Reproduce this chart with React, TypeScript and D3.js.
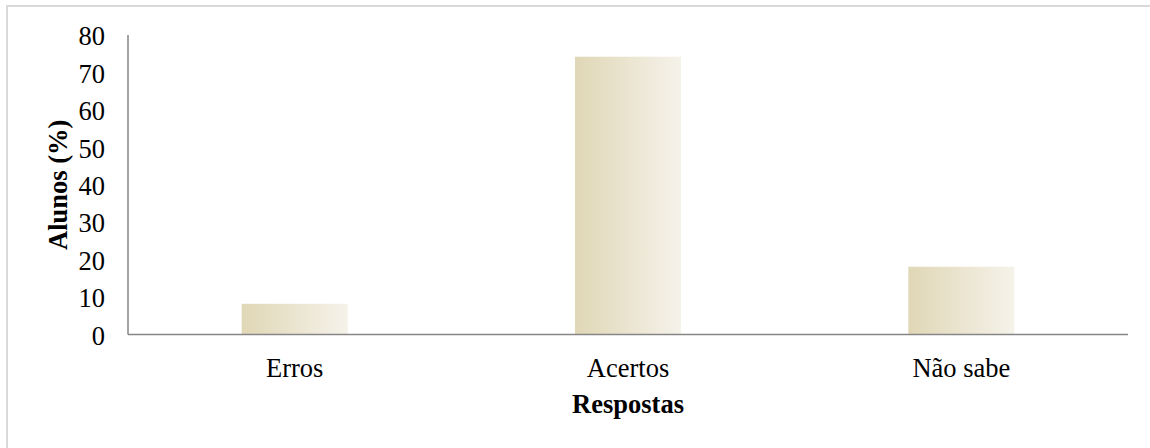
import React from "react";
import * as d3 from "d3";

const categories = ["Erros", "Acertos", "Não sabe"];
const values = [8.2, 74.2, 18.1];
const yTicks = [0, 10, 20, 30, 40, 50, 60, 70, 80];

const W = 1150;
const H = 448;
const margin = { top: 35, right: 22, bottom: 113.5, left: 128 };

export default function App() {
  const innerW = W - margin.left - margin.right;
  const innerH = H - margin.top - margin.bottom;

  const x = d3.scaleBand<string>().domain(categories).range([0, innerW]).paddingInner(0.682).paddingOuter(0.341);
  const y = d3.scaleLinear().domain([0, 80]).range([innerH, 0]);

  const font = "'Liberation Serif', 'Times New Roman', serif";
  const fs = 26.5;

  return (
    <svg width={W} height={H} style={{ position: "absolute", left: 0, top: 0 }} fontFamily={font}>
      <defs>
        <linearGradient id="barGrad" x1="0" x2="1" y1="0" y2="0">
          <stop offset="0%" stopColor="#e0d7b6" />
          <stop offset="100%" stopColor="#f5f2ea" />
        </linearGradient>
      </defs>
      {/* chart frame, cut off at the right and bottom edges */}
      <rect x={7} y={6} width={W + 20} height={H + 20} fill="#fff" stroke="#d9d9d9" strokeWidth={2} />
      <g transform={`translate(${margin.left},${margin.top})`}>
        {categories.map((c, i) => (
          <rect
            key={c}
            x={x(c)}
            y={y(values[i])}
            width={x.bandwidth()}
            height={innerH - y(values[i])}
            fill="url(#barGrad)"
          />
        ))}
        <line x1={0} x2={0} y1={0} y2={innerH} stroke="#868686" strokeWidth={1.5} />
        <line x1={0} x2={innerW} y1={innerH} y2={innerH} stroke="#868686" strokeWidth={1.5} />
        {yTicks.map((t) => (
          <text key={t} x={-23} y={y(t) + 1} dy="0.35em" textAnchor="end" fontSize={fs} fill="#000">
            {t}
          </text>
        ))}
        {categories.map((c) => (
          <text key={c} x={(x(c) ?? 0) + x.bandwidth() / 2} y={innerH + 33} dy="0.35em" textAnchor="middle" fontSize={fs} fill="#000">
            {c}
          </text>
        ))}
        <text x={innerW / 2} y={innerH + 69.5} dy="0.35em" textAnchor="middle" fontSize={fs} fontWeight="bold" fill="#000">
          Respostas
        </text>
        <text
          transform={`translate(${-70},${innerH / 2}) rotate(-90)`}
          textAnchor="middle"
          dy="0.35em"
          fontSize={fs}
          fontWeight="bold"
          fill="#000"
        >
          Alunos (%)
        </text>
      </g>
    </svg>
  );
}
